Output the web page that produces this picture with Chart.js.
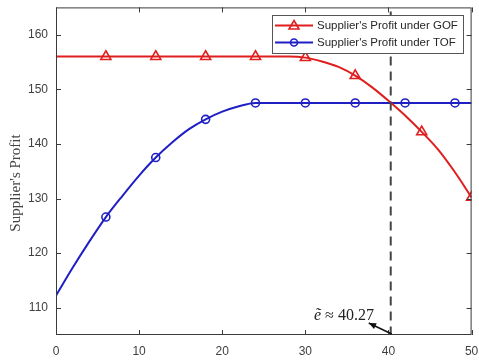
<!DOCTYPE html>
<html>
<head>
<meta charset="utf-8">
<script src="https://cdn.jsdelivr.net/npm/chart.js@4.4.1/dist/chart.umd.min.js"></script>
<style>
  html, body { margin: 0; padding: 0; background: #fff; }
  #wrap { width: 479px; height: 360px; }
</style>
</head>
<body>
<div id="wrap"><canvas id="profitChart" width="479" height="360"></canvas></div>
<script>
// values
const gofX = [0, 3, 6, 9, 12, 15, 18, 21, 24, 27, 28, 30, 32, 34, 36, 38, 40, 42, 44, 46, 48, 50];
const gofY = [156, 156, 156, 156, 156, 156, 156, 156, 156, 156, 156, 155.8, 155.1, 154.1, 152.5, 150.4, 147.9, 145.2, 142.2, 138.9, 134.8, 130.2];
const gofMarkers = [6, 12, 18, 24, 30, 36, 44, 50];

const tofX = [0, 2, 4, 6, 8, 10, 12, 14, 16, 18, 20, 22, 24, 30, 36, 42, 48, 50];
const tofY = [112.2, 117.3, 122.1, 126.6, 130.5, 134.2, 137.5, 140.3, 142.7, 144.5, 145.9, 146.9, 147.5, 147.5, 147.5, 147.5, 147.5, 147.5];
const tofMarkers = [6, 12, 18, 24, 30, 36, 42, 48];

const xTicks = [0, 10, 20, 30, 40, 50];
const yTicks = [110, 120, 130, 140, 150, 160];
const crossX = 40.27;
const crossLabel = '40.27';

const seriesLabels = ["Supplier's Profit under GOF", "Supplier's Profit under TOF"];
const yTitle = "Supplier's Profit";

const RED = '#e01e1e';
const BLUE = '#1f1fc4';
const AXIS = '#3a3a3a';

function toPoints(xs, ys) {
  return xs.map((x, i) => ({ x: x, y: ys[i] }));
}

// inside tick marks, box, dashed line, annotation, legend, y title
const decorPlugin = {
  id: 'decor',
  afterDatasetsDraw(chart) {
    const { ctx, chartArea: a, scales: { x } } = chart;
    ctx.save();
    const px = x.getPixelForValue(crossX);
    ctx.strokeStyle = '#444';
    ctx.lineWidth = 2;
    ctx.setLineDash([9, 6]);
    ctx.beginPath();
    ctx.moveTo(px, a.top + 4);
    ctx.lineTo(px, a.bottom);
    ctx.stroke();
    ctx.restore();
  },
  afterDraw(chart) {
    const { ctx, chartArea: a, scales: { x, y } } = chart;
    ctx.save();
    // box
    ctx.strokeStyle = AXIS;
    ctx.lineWidth = 1;
    ctx.strokeRect(a.left + 0.5, a.top + 0.5, a.right - a.left - 1, a.bottom - a.top - 1);
    // inside ticks
    ctx.beginPath();
    xTicks.forEach(v => {
      const p = Math.round(x.getPixelForValue(v)) + 0.5;
      ctx.moveTo(p, a.bottom); ctx.lineTo(p, a.bottom - 5);
      ctx.moveTo(p, a.top); ctx.lineTo(p, a.top + 5);
    });
    yTicks.forEach(v => {
      const p = Math.round(y.getPixelForValue(v)) + 0.5;
      ctx.moveTo(a.left, p); ctx.lineTo(a.left + 5, p);
      ctx.moveTo(a.right, p); ctx.lineTo(a.right - 5, p);
    });
    ctx.stroke();

    // annotation text and arrow
    const px = x.getPixelForValue(crossX);
    ctx.fillStyle = '#222';
    ctx.textBaseline = 'alphabetic';
    ctx.textAlign = 'left';
    ctx.font = 'italic 16px "Liberation Serif"';
    const tx = 314, ty = 320;
    ctx.fillText('\u1EBD', tx, ty);
    const ew = ctx.measureText('\u1EBD').width;
    ctx.font = '16px "Liberation Serif"';
    ctx.fillText(' \u2248 ' + crossLabel, tx + ew, ty);

    const ax0 = px + 1, ay0 = a.bottom - 1, ax1 = px - 22, ay1 = a.bottom - 12;
    ctx.strokeStyle = '#111';
    ctx.lineWidth = 1.4;
    ctx.beginPath();
    ctx.moveTo(ax0, ay0); ctx.lineTo(ax1, ay1);
    ctx.stroke();
    const ang = Math.atan2(ay1 - ay0, ax1 - ax0);
    ctx.fillStyle = '#111';
    ctx.beginPath();
    ctx.moveTo(ax1, ay1);
    ctx.lineTo(ax1 - 8 * Math.cos(ang - 0.4), ay1 - 8 * Math.sin(ang - 0.4));
    ctx.lineTo(ax1 - 8 * Math.cos(ang + 0.4), ay1 - 8 * Math.sin(ang + 0.4));
    ctx.closePath();
    ctx.fill();

    // legend
    const lx = 272, ly = 15, lw = 191, lh = 38;
    ctx.fillStyle = '#fff';
    ctx.fillRect(lx, ly, lw, lh);
    ctx.strokeStyle = '#555';
    ctx.lineWidth = 1;
    ctx.strokeRect(lx + 0.5, ly + 0.5, lw, lh);
    const rows = [
      { label: seriesLabels[0], color: RED, style: 'triangle', yy: 25.5 },
      { label: seriesLabels[1], color: BLUE, style: 'circle', yy: 42.5 }
    ];
    rows.forEach(r => {
      ctx.strokeStyle = r.color;
      ctx.lineWidth = 2;
      ctx.beginPath();
      ctx.moveTo(275, r.yy); ctx.lineTo(313, r.yy);
      ctx.stroke();
      ctx.lineWidth = 1.6;
      ctx.beginPath();
      if (r.style === 'circle') {
        ctx.arc(294, r.yy, 3.5, 0, Math.PI * 2);
      } else {
        ctx.moveTo(294, r.yy - 5); ctx.lineTo(299, r.yy + 3.5); ctx.lineTo(289, r.yy + 3.5); ctx.closePath();
      }
      ctx.stroke();
      ctx.fillStyle = '#262626';
      ctx.font = '11.5px "Liberation Sans"';
      ctx.textBaseline = 'middle';
      ctx.fillText(r.label, 317, r.yy);
    });

    // y title
    ctx.translate(16, 183);
    ctx.rotate(-Math.PI / 2);
    ctx.fillStyle = '#444';
    ctx.font = '15px "Liberation Serif"';
    ctx.textAlign = 'center';
    ctx.textBaseline = 'middle';
    ctx.fillText(yTitle, 0, 0);
    ctx.restore();
  }
};

function markerRadius(list, r) {
  return ctx => (ctx.raw && list.includes(ctx.raw.x)) ? r : 0;
}

const chart = new Chart(document.getElementById('profitChart'), {
  type: 'line',
  data: {
    datasets: [
      {
        label: seriesLabels[0],
        data: toPoints(gofX, gofY),
        borderColor: RED,
        backgroundColor: 'rgba(0,0,0,0)',
        borderWidth: 2,
        pointStyle: 'triangle',
        pointRadius: markerRadius(gofMarkers, 5.8),
        pointBorderWidth: 1.6,
        pointBorderColor: RED,
        pointBackgroundColor: 'rgba(0,0,0,0)',
        cubicInterpolationMode: 'monotone'
      },
      {
        label: seriesLabels[1],
        data: toPoints(tofX, tofY),
        borderColor: BLUE,
        backgroundColor: 'rgba(0,0,0,0)',
        borderWidth: 2,
        pointStyle: 'circle',
        pointRadius: markerRadius(tofMarkers, 4),
        pointBorderWidth: 1.6,
        pointBorderColor: BLUE,
        pointBackgroundColor: 'rgba(0,0,0,0)',
        cubicInterpolationMode: 'monotone'
      }
    ]
  },
  options: {
    responsive: false,
    animation: false,
    layout: { padding: { top: 6, right: 7, left: 0, bottom: 0 } },
    plugins: { legend: { display: false }, tooltip: { enabled: false } },
    scales: {
      x: {
        type: 'linear',
        min: 0, max: 50,
        afterBuildTicks: s => { s.ticks = xTicks.map(v => ({ value: v })); },
        afterFit: s => { s.height = 25; s.paddingLeft = 0; s.paddingRight = 0; },
        grid: { display: false, drawTicks: false },
        border: { display: false },
        ticks: { color: '#404040', font: { family: 'Liberation Sans', size: 12 }, padding: 9, maxRotation: 0 }
      },
      y: {
        type: 'linear',
        min: 105, max: 165,
        afterBuildTicks: s => { s.ticks = yTicks.map(v => ({ value: v })); },
        afterFit: s => { s.width = 56; s.paddingTop = 0; s.paddingBottom = 0; },
        grid: { display: false, drawTicks: false },
        border: { display: false },
        ticks: { color: '#404040', font: { family: 'Liberation Sans', size: 12 }, padding: 8 }
      }
    }
  },
  plugins: [decorPlugin]
});
</script>
</body>
</html>
